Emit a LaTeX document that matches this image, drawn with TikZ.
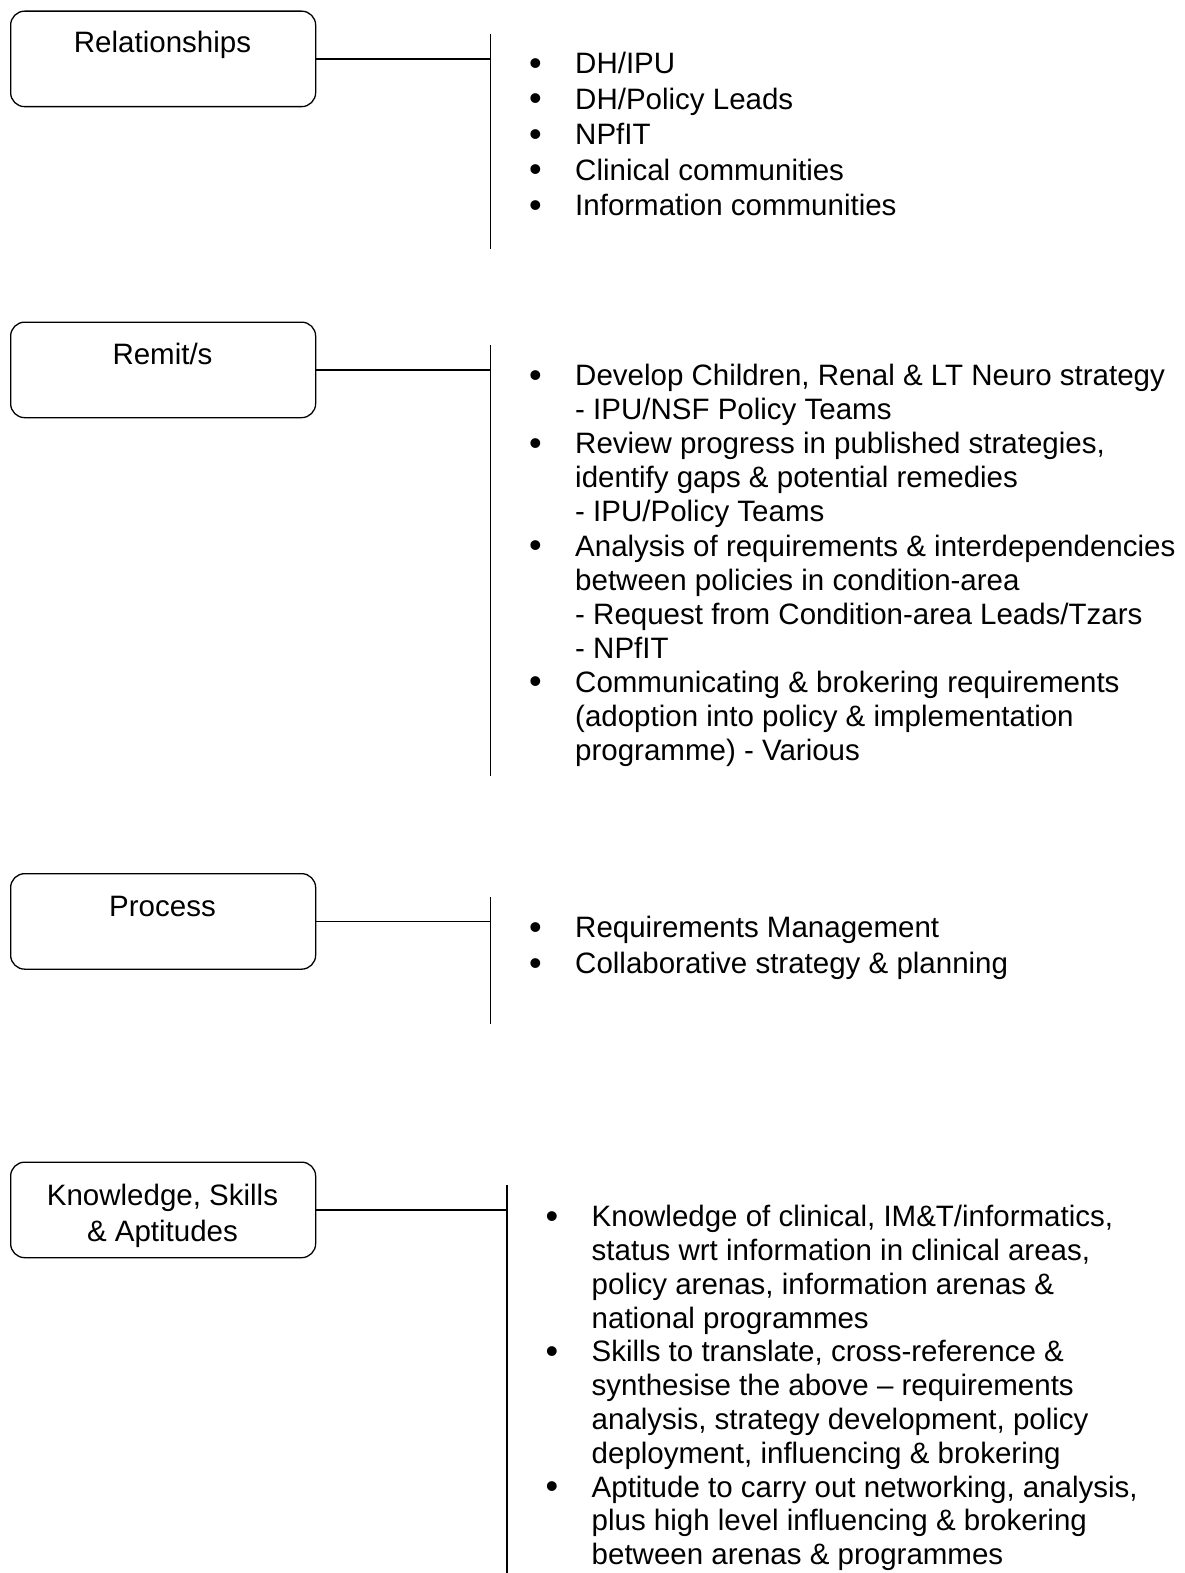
\documentclass[tikz,border=0pt]{standalone}
\usepackage{fontspec}
\setmainfont{Liberation Sans}
\usetikzlibrary{calc}
\newcommand{\bul}{\raisebox{-1.5pt}{\fontsize{36}{34}\selectfont\textbullet}}
\begin{document}
\begin{tikzpicture}[x=1pt,y=-1pt,
  boxnode/.style={draw, line width=1.3pt, rounded corners=14pt, minimum width=305pt, minimum height=95.5pt, inner sep=0pt, anchor=north west},
  lbl/.style={font=\fontsize{29.5}{36}\selectfont, align=center, anchor=base, inner sep=0pt},
  lstA/.style={anchor=base west, inner sep=0pt, font=\fontsize{29.5}{35.4}\selectfont},
  lstB/.style={anchor=base west, inner sep=0pt, font=\fontsize{29.5}{34.1}\selectfont},
  lstC/.style={anchor=base west, inner sep=0pt, font=\fontsize{29.5}{36}\selectfont},
  lstD/.style={anchor=base west, inner sep=0pt, font=\fontsize{29.5}{33.8}\selectfont},
  conn/.style={line width=1.3pt}]
\useasboundingbox (0,0) rectangle (1184,1573);

% ---------- Relationships ----------
\node[boxnode] (b1) at (10,10.5) {};
\node[lbl] (t1) at (162.5,53) {Relationships};
\coordinate (v1top) at (490.5,34);
\coordinate (v1bot) at (490.5,249);
\draw[conn] (v1top) -- (v1bot);
\draw[conn] (b1.east) -- (b1.east -| v1top);
\node[lstA] (l1) at (529,74) {\setlength{\tabcolsep}{0pt}\begin{tabular}[t]{@{}p{46pt}l@{}}
\bul & DH/IPU\\
\bul & DH/Policy Leads\\
\bul & NPfIT\\
\bul & Clinical communities\\
\bul & Information communities
\end{tabular}};

% ---------- Remit/s ----------
\node[boxnode] (b2) at (10,321.5) {};
\node[lbl] (t2) at (162.5,364.7) {Remit/s};
\coordinate (v2top) at (490.5,345);
\coordinate (v2bot) at (490.5,776);
\draw[conn] (v2top) -- (v2bot);
\draw[conn] (b2.east) -- (b2.east -| v2top);
\node[lstB] (l2) at (529,385.5) {\setlength{\tabcolsep}{0pt}\begin{tabular}[t]{@{}p{46pt}l@{}}
\bul & Develop Children, Renal \& LT Neuro strategy\\
 & - IPU/NSF Policy Teams\\
\bul & Review progress in published strategies,\\
 & identify gaps \& potential remedies\\
 & - IPU/Policy Teams\\
\bul & Analysis of requirements \& interdependencies\\
 & between policies in condition-area\\
 & - Request from Condition-area Leads/Tzars\\
 & - NPfIT\\
\bul & Communicating \& brokering requirements\\
 & (adoption into policy \& implementation\\
 & programme) - Various
\end{tabular}};

% ---------- Process ----------
\node[boxnode] (b3) at (10,873) {};
\node[lbl] (t3) at (162.5,916) {Process};
\coordinate (v3top) at (490.5,897);
\coordinate (v3bot) at (490.5,1024);
\draw[conn] (v3top) -- (v3bot);
\draw[conn] (b3.east) -- (b3.east -| v3top);
\node[lstC] (l3) at (529,937.5) {\setlength{\tabcolsep}{0pt}\begin{tabular}[t]{@{}p{46pt}l@{}}
\bul & Requirements Management\\
\bul & Collaborative strategy \& planning
\end{tabular}};

% ---------- Knowledge, Skills & Aptitudes ----------
\node[boxnode] (b4) at (10,1161.5) {};
\node[lbl] (t4) at (162.5,1205) {Knowledge, Skills};
\node[lbl] (t4b) at (162.5,1241.7) {\& Aptitudes};
\coordinate (v4top) at (507,1185);
\coordinate (v4bot) at (507,1580);
\draw[conn] (v4top) -- (v4bot);
\draw[conn] (b4.east) -- (b4.east -| v4top);
\node[lstD] (l4) at (545.5,1226.7) {\setlength{\tabcolsep}{0pt}\begin{tabular}[t]{@{}p{46pt}l@{}}
\bul & Knowledge of clinical, IM\&T/informatics,\\
 & status wrt information in clinical areas,\\
 & policy arenas, information arenas \&\\
 & national programmes\\
\bul & Skills to translate, cross-reference \&\\
 & synthesise the above – requirements\\
 & analysis, strategy development, policy\\
 & deployment, influencing \& brokering\\
\bul & Aptitude to carry out networking, analysis,\\
 & plus high level influencing \& brokering\\
 & between arenas \& programmes
\end{tabular}};
\end{tikzpicture}
\end{document}
